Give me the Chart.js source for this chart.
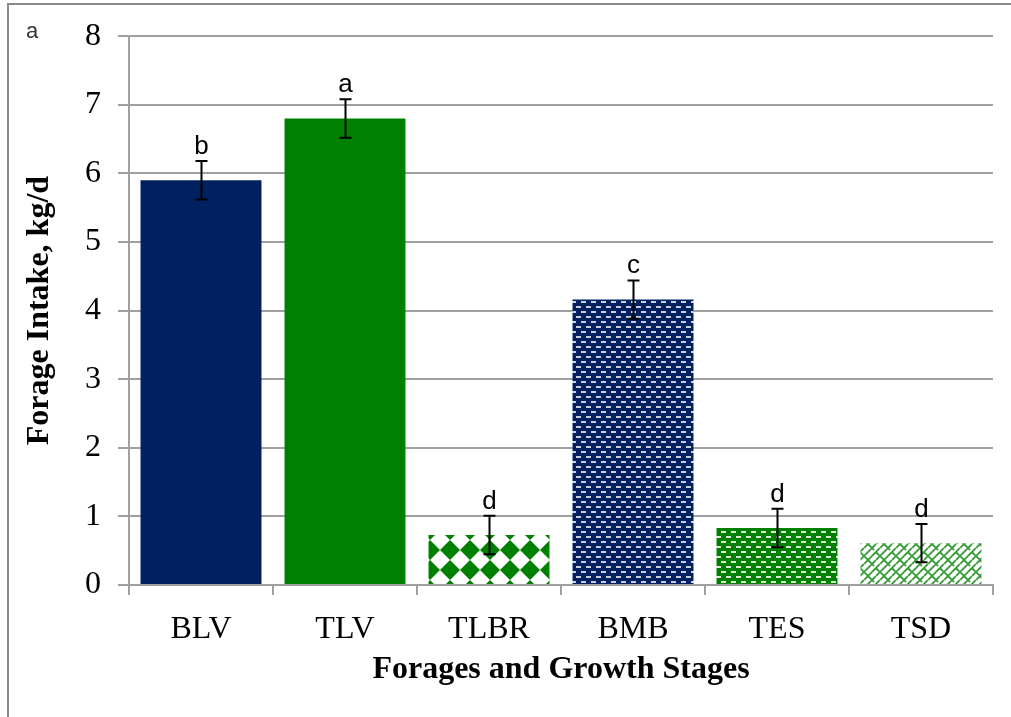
<!DOCTYPE html>
<html>
<head>
<meta charset="utf-8">
<script src="https://cdn.jsdelivr.net/npm/chart.js@4.4.0/dist/chart.umd.min.js"></script>
<style>
  html, body { margin: 0; padding: 0; background: #fff; }
  #wrap { position: relative; width: 1011px; height: 717px; overflow: hidden; }
  #frame { position: absolute; left: 7px; top: 3px; width: 1010px; height: 720px;
           border-left: 2px solid #8a8a8a; border-top: 2px solid #8a8a8a; }
  #panel { position: absolute; left: 26px; top: 18px; font: 22px "Liberation Sans", Arial, sans-serif; color: #333; }
  canvas { position: absolute; left: 0; top: 0; }
</style>
</head>
<body>
<div id="wrap">
  <canvas id="c" width="1011" height="717"></canvas>
  <div id="frame"></div>
  <div id="panel">a</div>
</div>
<script>
// ---- data ----
const categories = ['BLV', 'TLV', 'TLBR', 'BMB', 'TES', 'TSD'];
const intake = [5.9, 6.8, 0.73, 4.16, 0.83, 0.61];
const stdErr = [0.28, 0.28, 0.28, 0.28, 0.28, 0.28];
const sigLetters = ['b', 'a', 'd', 'c', 'd', 'd'];
const yMin = 0, yMax = 8, yStep = 1;

// ---- patterns ----
function makeTile(w, h, draw) {
  const c = document.createElement('canvas');
  c.width = w; c.height = h;
  const g = c.getContext('2d');
  draw(g, w, h);
  return document.getElementById('c').getContext('2d').createPattern(c, 'repeat');
}
const navy = '#002060', green = '#008000';
const diamondPat = makeTile(20, 20, (g) => {
  g.fillStyle = '#fff'; g.fillRect(0, 0, 20, 20);
  g.fillStyle = green;
  g.beginPath(); g.moveTo(10, 0); g.lineTo(20, 10); g.lineTo(10, 20); g.lineTo(0, 10); g.closePath(); g.fill();
});
function dashTile(bg, dash) {
  return makeTile(10, 10, (g) => {
    g.fillStyle = bg; g.fillRect(0, 0, 10, 10);
    g.fillStyle = dash;
    g.fillRect(1, 1, 5, 2);
    g.fillRect(6, 6, 4, 2); g.fillRect(0, 6, 1, 2);
  });
}
const navyDashPat = dashTile(navy, '#c8d0e0');
const greenDashPat = dashTile(green, '#d8ecd8');
const weavePat = makeTile(16, 16, (g) => {
  g.fillStyle = '#fff'; g.fillRect(0, 0, 16, 16);
  g.strokeStyle = '#3aa03a'; g.lineWidth = 1.8;
  g.beginPath();
  g.moveTo(0, 4); g.lineTo(4, 0);
  g.moveTo(0, 12); g.lineTo(12, 0);
  g.moveTo(4, 16); g.lineTo(16, 4);
  g.moveTo(12, 16); g.lineTo(16, 12);
  g.moveTo(4, 0); g.lineTo(10, 6);
  g.moveTo(12, 8); g.lineTo(16, 12);
  g.moveTo(0, 12); g.lineTo(4, 16);
  g.stroke();
});
const barFills = [navy, green, diamondPat, navyDashPat, greenDashPat, weavePat];

// ---- error bars + letters plugin ----
const errorBars = {
  id: 'errorBars',
  afterDatasetsDraw(chart) {
    const ctx = chart.ctx, ys = chart.scales.y;
    const meta = chart.getDatasetMeta(0);
    ctx.save();
    ctx.strokeStyle = '#000'; ctx.lineWidth = 2;
    meta.data.forEach((bar, i) => {
      const x = Math.round(bar.x) + 0.5;
      const t = ys.getPixelForValue(intake[i] + stdErr[i]);
      const b = ys.getPixelForValue(intake[i] - stdErr[i]);
      ctx.beginPath();
      ctx.moveTo(x, t); ctx.lineTo(x, b);
      ctx.moveTo(x - 6, t); ctx.lineTo(x + 6, t);
      ctx.moveTo(x - 6, b); ctx.lineTo(x + 6, b);
      ctx.stroke();
      ctx.fillStyle = '#000';
      ctx.font = '26px "Liberation Sans", Arial, sans-serif';
      ctx.textAlign = 'center'; ctx.textBaseline = 'alphabetic';
      ctx.fillText(sigLetters[i], x, t - 7);
    });
    ctx.restore();
  }
};

const gridColor = '#a0a0a0';
const serif = '"Liberation Serif", "Times New Roman", serif';
new Chart(document.getElementById('c'), {
  type: 'bar',
  data: {
    labels: categories,
    datasets: [{
      data: intake,
      backgroundColor: barFills,
      borderWidth: 0,
      categoryPercentage: 1.0,
      barPercentage: 0.84
    }]
  },
  options: {
    responsive: false,
    animation: false,
    devicePixelRatio: 1,
    layout: { padding: { left: 0, top: 35, right: 18, bottom: 0 } },
    plugins: { legend: { display: false }, tooltip: { enabled: false } },
    scales: {
      y: {
        min: yMin, max: yMax,
        ticks: { stepSize: yStep, color: '#000', padding: 17,
                 font: { family: serif, size: 32 } },
        grid: { color: gridColor, lineWidth: 2, tickLength: 11, drawTicks: true },
        border: { color: gridColor, width: 2 },
        title: { display: true, text: 'Forage Intake, kg/d', color: '#000',
                 font: { family: serif, size: 32, weight: 'bold' },
                 padding: { top: 21, bottom: 0 } },
        afterFit(s) { s.width = 129; }
      },
      x: {
        offset: true,
        ticks: { color: '#000', padding: 15,
                 font: { family: serif, size: 32 } },
        grid: { offset: true, drawOnChartArea: false, drawTicks: true, tickLength: 10, color: gridColor, lineWidth: 2 },
        border: { color: gridColor, width: 2 },
        title: { display: true, text: 'Forages and Growth Stages', color: '#000',
                 font: { family: serif, size: 32, weight: 'bold' },
                 padding: { top: 0, bottom: 28 } },
        afterFit(s) { s.height = 132; }
      }
    }
  },
  plugins: [errorBars]
});
</script>
</body>
</html>
